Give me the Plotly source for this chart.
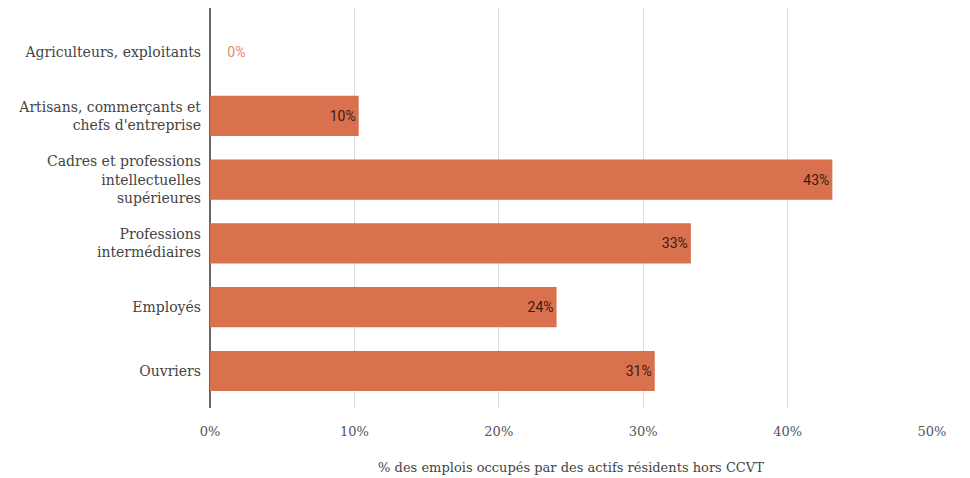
import plotly.graph_objects as go

categories = [
    "Agriculteurs, exploitants",
    "Artisans, commerçants et<br>chefs d'entreprise",
    "Cadres et professions<br>intellectuelles<br>supérieures",
    "Professions<br>intermédiaires",
    "Employés",
    "Ouvriers",
]
values = [0.0, 10.3, 43.1, 33.3, 24.0, 30.8]
labels = ["0%", "10%", "43%", "33%", "24%", "31%"]
x_ticks = [0, 10, 20, 30, 40, 50]
x_tick_labels = ["0%", "10%", "20%", "30%", "40%", "50%"]

bar_color = "#D9714F"
positions = ["outside" if v == 0 else "inside" for v in values]
text_colors = ["#E08A6C" if v == 0 else "#3a1c10" for v in values]
display_text = ["\u2003" + t if v == 0 else t for t, v in zip(labels, values)]

fig = go.Figure(
    go.Bar(
        x=values,
        y=categories,
        orientation="h",
        marker=dict(color=bar_color, line=dict(width=0)),
        width=0.63,
        text=display_text,
        textposition=positions,
        insidetextanchor="end",
        textfont=dict(family="Roboto, sans-serif", size=14, color=text_colors),
        cliponaxis=False,
        hoverinfo="skip",
    )
)

serif = "'DejaVu Serif', Georgia, serif"

fig.update_layout(
    width=970,
    height=478,
    margin=dict(l=202, r=46, t=0, b=78),
    paper_bgcolor="white",
    plot_bgcolor="white",
    showlegend=False,
    font=dict(family=serif, size=13, color="#444444"),
    xaxis=dict(
        range=[0, 50],
        tickvals=x_ticks,
        ticktext=x_tick_labels,
        showgrid=True,
        gridcolor="#dddddd",
        gridwidth=1,
        zeroline=True,
        zerolinecolor="#666666",
        zerolinewidth=1.5,
        ticks="",
        automargin=False,
        ticklabelstandoff=14,
        tickfont=dict(family=serif, size=13, color="#555555"),
        title=dict(
            text="% des emplois occupés par des actifs résidents hors CCVT",
            font=dict(family=serif, size=13, color="#444444"),
            standoff=24,
        ),
        fixedrange=True,
    ),
    yaxis=dict(
        categoryorder="array",
        categoryarray=categories,
        range=[5.58, -0.69],
        showgrid=False,
        ticks="",
        automargin=False,
        ticklabelstandoff=8,
        tickfont=dict(family=serif, size=14, color="#444444"),
        fixedrange=True,
    ),
)

fig.write_html("out.html")
